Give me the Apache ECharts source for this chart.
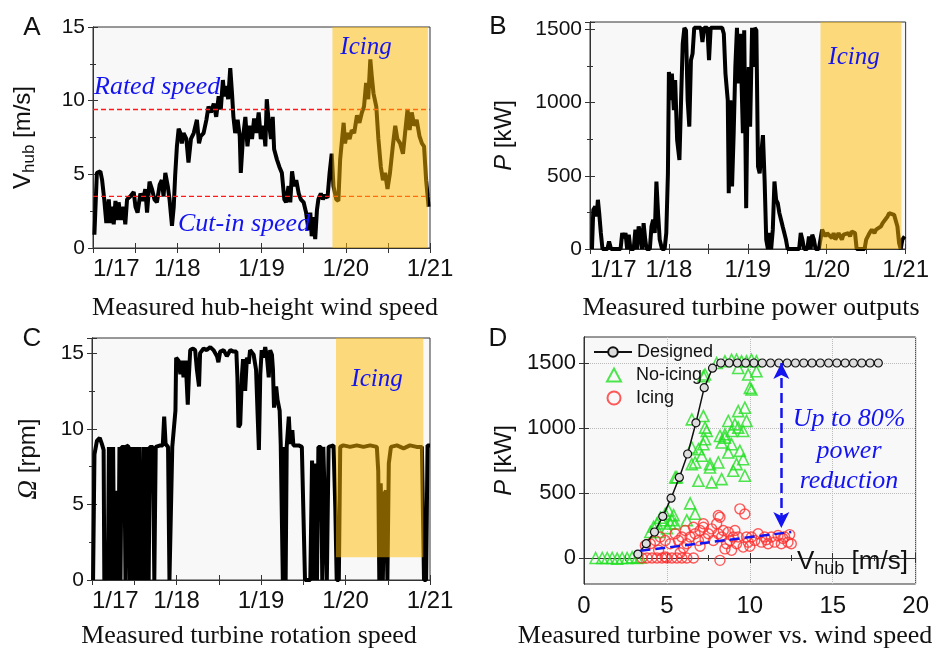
<!DOCTYPE html>
<html>
<head>
<meta charset="utf-8">
<script src="https://cdn.jsdelivr.net/npm/echarts@6/dist/echarts.min.js"></script>
<style>
  html, body { margin: 0; background: #fff; }
  #chart { width: 932px; height: 648px; }
</style>
</head>
<body>
<div id="chart"></div>
<script>
// hours since 1/17 00:00
const hoursA = [0.4,1.1,2.1,2.6,3.2,3.8,4.5,4.9,5.4,5.9, 6.4,6.8,7.3,8.0,8.7,9.2,9.7,10.6,11.6,12.1, 12.7,13.5,14.2,14.9,15.4,16.1,16.8,17.5,18.2,19.0, 19.6,20.1,20.6,21.3,21.8,22.5,23.0,23.4,23.9,24.4, 24.9,25.3,25.8,26.6,27.2,27.9,28.7,29.1,29.6,30.2, 30.7,31.5,32.3,32.9,33.6,34.4,35.1,35.8,36.4,37.0, 37.4,38.0,38.5,39.1,39.6,40.0,40.5,41.2,41.8,42.1, 42.7,43.4,44.0,44.6,45.3,45.9,46.5,47.2,47.8,48.6, 49.1,49.5,50.0,50.7,51.2,51.6,52.4,53.1,53.8,54.5, 55.0,55.7,56.2,56.7,57.3,57.9,58.6,59.2,60.0,60.7, 61.4,61.9,62.3,62.8,63.3,63.8,64.2,64.9,65.5,66.1, 66.8,67.4,68.0,68.5,69.3,69.9,70.4,71.4,71.8,72.3, 73.1,73.7,74.4,75.2,75.9,76.6,77.2,77.8,78.4,79.0, 79.4,79.9,80.7,81.3,82.0,82.6,83.2,83.9,84.6,85.4, 86.1,86.7,87.5,88.3,88.9,89.6,90.2,90.8,91.5,92.2, 93.0,93.7,94.3,94.9,95.6];
const windA = [0.9,5.1,5.2,4.6,3.3,1.7,3.3,1.7,2.8,1.6, 3.2,1.9,3.1,1.9,2.8,1.6,3.3,3.5,3.8,2.8, 2.4,3.7,3.2,4.0,2.4,4.5,4.0,3.3,3.1,4.3, 4.6,3.5,5.1,4.2,3.3,1.5,2.8,4.9,6.9,8.1, 7.8,7.1,7.8,7.4,5.8,7.4,7.8,7.9,8.7,7.1, 7.6,7.8,8.7,9.6,9.2,9.8,8.9,10.3,9.4,11.4, 10.3,11.0,10.1,12.2,10.5,8.9,7.8,8.7,7.6,5.1, 7.4,8.9,6.9,8.3,7.4,8.8,7.8,9.2,7.4,8.3, 6.9,10.1,8.7,7.4,8.9,6.7,6.0,5.5,5.1,3.3, 3.1,4.2,3.1,5.2,4.2,4.6,3.7,3.3,3.1,2.4, 1.2,2.4,0.8,2.1,0.6,2.6,3.3,3.7,3.3,3.6, 3.4,5.1,6.4,4.2,3.3,3.2,6.0,8.5,7.1,7.8, 7.4,8.0,7.8,9.0,8.5,9.2,9.6,11.2,10.1,12.8, 11.7,10.5,9.6,7.4,5.5,4.6,5.1,4.0,5.1,6.9, 8.3,7.4,7.1,6.4,7.8,9.4,8.0,9.2,8.3,8.7, 7.6,7.1,6.9,4.6,2.8];
const ratedSpeed = 9.4;
const cutInSpeed = 3.5;
const spanHours = [0, 96];
const icingA = [68.2, 95.4];

const hoursB = [0.6,1.0,1.6,2.0,2.4,2.8,3.3,3.8,5.3,5.8, 6.4,9.3,9.8,10.3,10.8,11.3,11.8,12.3,13.3,13.8, 14.3,14.8,15.3,15.8,16.3,16.8,17.2,18.2,18.7,19.2, 19.7,20.2,20.7,21.2,21.9,22.7,23.2,23.7,24.0,24.5, 24.9,25.5,25.9,26.5,27.2,27.7,28.2,28.7,29.2,29.7, 30.2,30.7,31.2,31.7,33.7,34.2,34.7,35.7,36.2,36.7, 40.2,40.7,41.2,41.9,42.2,42.7,43.2,43.7,44.2,44.7, 45.2,45.7,46.5,46.9,47.5,47.9,48.3,48.7,49.3,49.7, 50.1,50.6,51.1,51.6,52.1,52.6,53.1,53.6,54.1,54.6, 55.1,55.6,56.1,56.6,57.1,57.6,58.1,58.6,59.1,59.6, 60.1,63.6,64.1,64.6,65.1,66.1,66.6,67.1,67.6,68.1, 68.6,69.6,70.6,71.1,71.6,72.1,72.6,73.6,74.1,74.6, 75.1,75.6,76.1,76.6,77.1,77.6,78.6,79.1,79.6,80.6, 81.1,83.5,84.0,84.5,85.0,85.7,86.5,87.0,87.5,88.5, 89.0,89.5,90.5,91.0,91.5,92.5,93.0,93.5,94.0,94.5, 95.0,95.7];
const powerB = [0,268,290,222,336,245,109,0,0,52, 0,0,109,75,109,0,98,0,0,132, 0,154,109,0,177,64,0,0,154,200, 109,461,245,64,0,0,109,517,1209,1016, 1198,948,1153,744,608,1016,1402,1510,1493,1016, 835,1289,1334,1510,1510,1414,1510,1510,1289,1510, 1510,1470,1198,1016,381,1016,427,790,1243,1510, 1130,1470,790,1493,279,1016,1243,835,1510,1243, 1510,1493,563,517,653,778,472,64,0,109, 0,132,461,336,313,245,200,154,109,64, 0,0,109,64,0,0,86,0,98,64, 0,0,132,109,86,109,98,75,109,64, 75,109,86,64,98,86,109,86,120,109, 0,0,64,86,109,132,109,132,120,154, 177,188,222,245,256,233,245,154,41,0, 64,86];
const icingB = [70.1, 94.7];

const hoursC = [0.3,0.7,1.4,2.2,2.8,3.3, 3.5,3.9,4.2,4.5,4.8,5.1,5.4,5.7,6.0,6.3, 6.6,6.9,7.2,7.5,7.8,8.1,8.4,9.2,9.5,9.8, 10.4,10.7,11.0,11.3,11.6,11.9,12.2,12.5,12.8,13.1, 13.4,13.7,14.0,14.3,14.6,14.9,15.2,15.5,15.8,16.1, 16.4,17.3,17.7,18.1,19.4,20.1, 20.5,20.9,21.6,22.0,22.4,22.8,23.2,23.7,23.9,24.6, 25.1,25.5,26.0,26.6,27.2,27.5,27.9,28.7,29.3,29.8, 30.4,30.7,31.7,32.6,33.6,34.5,35.5,35.9,36.4,37.4, 38.3,39.3,40.2,41.0,41.3,41.6,42.1,42.6,42.9,43.5, 44.0,44.5,44.9,45.9,46.6,47.0,47.4,47.8,48.2,48.7, 49.2,49.7,50.2,50.6,51.1,51.4,51.7,52.3,52.7,53.3, 53.6,54.2,54.6,55.0,55.3,55.9,56.3,56.9,57.2,58.7, 59.6,60.1,60.5,62.0,62.5,62.9,63.4,63.9,64.3,65.0, 65.4,65.7,66.2,66.7,67.2,68.6,69.1,69.5,70.1,70.5, 71.4,73.3,75.2,77.1,79.0,80.9,81.3,81.6,82.0,82.6, 83.0,83.5,83.9,84.3,84.9,86.6,88.5,90.3,92.2,93.7, 94.3,94.9,95.3,96.0];
const rotorC = [0,8.3,9.2,9.4,9.0,8.6, 0,0,1.5,0,8.8,0,8.8,0,8.8,0, 3.3,0,5.9,0,8.8,0,8.8,8.8,0,8.9, 8.8,0,8.8,0,8.8,0,8.8,0,8.8,0, 8.8,0,3.7,0,8.8,0,8.8,0,8.8,0, 8.8,8.8,0,8.8,8.9,8.9, 10.8,9.0,8.8,0,0,8.8,8.8,11.2,14.7,14.5, 13.6,14.5,13.4,14.5,11.6,13.4,15.2,15.3,15.2,13.9, 12.8,15.0,15.3,15.2,15.4,15.2,14.8,14.4,15.1,15.2, 14.8,15.2,15.1,15.1,13.4,10.1,10.3,13.6,14.6,12.5, 14.7,14.3,15.2,14.9,13.9,11.2,8.6,13.6,15.2,14.7, 15.4,14.7,13.4,15.2,14.9,13.9,11.4,12.8,11.9,11.2, 9.0,0,8.8,0,8.8,10.8,9.0,9.9,8.9,8.9, 8.8,8.8,0,0,7.9,0,7.7,0,8.8,8.8, 0,8.8,8.8,0,8.8,8.9,4.8,0,0,8.8, 8.9,8.8,8.9,8.8,8.9,8.8,7.2,0,6.4,0, 5.7,5.9,0,7.7,8.8,8.9,8.7,8.9,8.8,8.8, 0,0,8.9,8.9];
const icingC = [69.3, 94.1];
const icingCFloor = 1.5;

// panel D: power curve
const designedV = [3.25,3.75,4.25,4.75,5.25,5.75,6.25,6.75,7.25,7.75,8.25,8.75,9.25,9.75,10.25,10.75,11.25,11.75,12.25,12.75,13.25,13.75,14.25,14.75,15.25,15.75,16.25,16.75,17.25,17.75];
const designedP = [30,110,200,320,460,620,800,1040,1310,1460,1500,1500,1500,1500,1500,1500,1500,1500,1500,1500,1500,1500,1500,1500,1500,1500,1500,1500,1500,1500];
const noIcingV = [0.7,1.1,1.4,1.7,2.0,2.3,2.6,2.9,3.2,3.4, 4.0,4.2,4.4,4.6,4.8,4.9,5.1,5.2,5.3,5.5, 5.0,4.5,5.4,5.5,5.6,6.2,6.4,6.7, 6.5,7.2,7.3,7.4,6.5,6.9,7.2,7.3,7.1,6.7, 6.5,7.6,8.1,6.9,7.7,8.3,7.6,8.5,8.7,8.9, 9.1,9.3,9.7,9.3,9.6,9.8,8.9,8.3,9.4,9.2, 9.6,9.0,9.7,8.7,8.2,8.5, 7.2,7.3,8.0,8.5,8.9,9.2,9.5,9.8,10.1,10.4, 9.3,9.9,10.4,10.0,10.1];
const noIcingP = [0,0,0,0,-5,0,0,5,0,5, 200,240,265,310,290,340,365,265,290,265, 230,200,330,620,620,290,420,340, 1066,1092,1003,977,850,837,875,913,786,735, 722,722,735,594,582,607,696,926,1054,977, 1028,1130,1156,1003,977,1054,875,888,824,722, 760,671,633,811,939,952, 1398,1411,1500,1513,1525,1525,1513,1513,1525,1513, 1462,1411,1436,1309,1296];
const icingV = [3.5,3.8,4.1,4.4,4.7,5.0,5.3,5.6,5.9,6.2,6.6, 3.7,4.0,4.3,4.6,4.9,5.2,5.5,5.7,5.9,6.1, 6.2,6.4,6.6,6.7,6.9,7.0,7.2,7.3,7.5,7.7, 7.8,8.0,8.1,8.2,8.3,8.4,8.6,8.7,8.8,8.9, 9.0,9.1,9.2,9.3,9.4,9.6,9.7,9.8,9.9,10.1, 10.3,10.5,10.7,10.9,11.1,11.3,11.5,11.7,11.9,12.1, 12.3,12.5,8.2,4.9,8.1,7.2,6.0,7.0,8.5,10.0, 11.0,12.0,12.4,5.8,4.5];
const icingP = [0,0,0,0,0,0,0,0,0,0,0, 97,110,135,161,135,110,186,135,161,212, 110,161,237,186,135,212,237,148,186,224, 135,263,186,314,161,212,110,199,135,59, 161,212,110,161,378,84,339,161,122,161, 135,186,122,161,110,161,122,173,110,161, 122,110,-18,8,327,263,80,90,70,90, 140,150,180,40,60];
const trendV = [3.4, 12.5];
const trendP = [55, 200];
const reductionV = 11.9;
const reductionP = [1500, 230];
const powerTicks = [0, 500, 1000, 1500];

const SANS = 'Liberation Sans, Arial, sans-serif';
const SERIF = 'Liberation Serif, Times New Roman, serif';
const BLUE = '#1414f0';
const ICE = 'rgba(255,188,0,0.5)';
const AXIS = '#333';

const pairs = (xs, ys) => xs.map((x, i) => [x, ys[i]]);

const chart = echarts.init(document.getElementById('chart'));

const gridStyle = { show: true, backgroundColor: '#f8f8f8', borderColor: AXIS, borderWidth: 1 };
const tickStyle = { inside: true, length: 5, lineStyle: { color: AXIS } };
const minorStyle = { show: true, splitNumber: 2, length: 3, lineStyle: { color: AXIS } };

function timeAxis(gridIndex) {
  return {
    type: 'value', gridIndex, min: 0, max: 96, interval: 12,
    axisLine: { show: true, lineStyle: { color: AXIS } },
    axisTick: tickStyle,
    splitLine: { show: false },
    axisLabel: {
      fontFamily: SANS, fontSize: 24, color: '#111', margin: 9, alignMinLabel: 'left',
      formatter: v => (v % 24 === 0 ? '1/' + (17 + v / 24) : '')
    }
  };
}

function valAxis(gridIndex, min, max, interval, step, extra) {
  return Object.assign({
    type: 'value', gridIndex, min, max, interval,
    axisLine: { show: true, lineStyle: { color: AXIS } },
    axisTick: tickStyle,
    minorTick: minorStyle,
    splitLine: { show: false },
    nameLocation: 'middle',
    axisLabel: {
      fontFamily: SANS, fontSize: 21, color: '#111', margin: 8,
      formatter: v => (v % step === 0 ? String(v) : '')
    }
  }, extra);
}

// same scale on the opposite edge, ticks only
function mirror(axis, position) {
  return Object.assign({}, axis, { position, name: '', axisLabel: { show: false }, splitLine: { show: false } });
}

function icingBox(xAxisIndex, win, y0, y1) {
  return {
    type: 'custom', xAxisIndex, yAxisIndex: xAxisIndex, z: 10, silent: true,
    data: [[win[0], win[1], y0, y1]],
    renderItem: (params, api) => {
      const p0 = api.coord([api.value(0), api.value(3)]);
      const p1 = api.coord([api.value(1), api.value(2)]);
      return { type: 'rect', shape: { x: p0[0], y: p0[1], width: p1[0] - p0[0], height: p1[1] - p0[1] }, style: { fill: ICE } };
    }
  };
}

const blackLine = { color: '#000', width: 4 };

function threshold(value) {
  return {
    type: 'line', xAxisIndex: 0, yAxisIndex: 0, showSymbol: false, silent: true, z: 3,
    lineStyle: { color: '#ff1a1a', type: [5, 3], width: 1.3 },
    data: pairs(spanHours, [value, value])
  };
}

function txt(x, y, text, size, family, color, opts) {
  return {
    type: 'text', x, y, z: 100, silent: true,
    style: Object.assign({ text, fontSize: size, fontFamily: family, fill: color, textAlign: 'center', textVerticalAlign: 'middle' }, opts || {})
  };
}

const xAxes = [
  timeAxis(0), timeAxis(1), timeAxis(2),
  {
    type: 'value', gridIndex: 3, min: 0, max: 20, interval: 5,
    axisLine: { show: true, lineStyle: { color: AXIS } },
    axisTick: tickStyle,
    minorTick: minorStyle,
    splitLine: { show: true, lineStyle: { color: '#bbb', type: 'dotted' } },
    axisLabel: { fontFamily: SANS, fontSize: 24, color: '#111', margin: 10 }
  }
];
const yAxes = [
  valAxis(0, 0, 15, 5, 5, {
    name: '{v|V}{s|hub}{v| [m/s]}', nameGap: 55,
    nameTextStyle: { rich: { v: { fontFamily: SANS, fontSize: 24, color: '#111' }, s: { fontFamily: SANS, fontSize: 17, color: '#111', padding: [12, 0, 0, 0] } } }
  }),
  valAxis(1, 0, 1550, 500, 500, {
    name: '{i|P} [kW]', nameGap: 74,
    nameTextStyle: { fontFamily: SANS, fontSize: 24, color: '#111', rich: { i: { fontFamily: SANS, fontSize: 24, fontStyle: 'italic', color: '#111' } } }
  }),
  valAxis(2, 0, 16, 5, 5, {
    name: '{i|Ω} [rpm]', nameGap: 50,
    nameTextStyle: { fontFamily: SANS, fontSize: 24, color: '#111', rich: { i: { fontFamily: SERIF, fontSize: 27, fontStyle: 'italic', color: '#111' } } }
  }),
  {
    type: 'value', gridIndex: 3, min: -200, max: 1700,
    axisLine: { show: true, lineStyle: { color: AXIS } },
    axisTick: Object.assign({ customValues: powerTicks }, tickStyle),
    splitLine: { show: true, lineStyle: { color: '#bbb', type: 'dotted' } },
    axisLabel: { fontFamily: SANS, fontSize: 22, color: '#111', margin: 8, customValues: powerTicks, formatter: v => String(v) },
    nameLocation: 'middle', name: '{i|P} [kW]', nameGap: 68,
    nameTextStyle: { fontFamily: SANS, fontSize: 24, color: '#111', rich: { i: { fontFamily: SANS, fontSize: 24, fontStyle: 'italic', color: '#111' } } }
  }
];

const option = {
  animation: false,
  grid: [
    Object.assign({ left: 93, top: 27, width: 337, height: 221 }, gridStyle),
    Object.assign({ left: 590, top: 22, width: 321, height: 227 }, gridStyle),
    Object.assign({ left: 92, top: 338, width: 338, height: 242 }, gridStyle),
    Object.assign({ left: 584, top: 337, width: 333, height: 247 }, gridStyle)
  ],
  xAxis: xAxes.concat(xAxes.map(a => mirror(a, 'top'))),
  yAxis: yAxes.concat(yAxes.map(a => mirror(a, 'right'))),
  legend: [
    {
      left: 588, top: 338, itemWidth: 38, itemHeight: 12,
      textStyle: { fontFamily: SANS, fontSize: 18, color: '#111' },
      data: ['Designed']
    },
    {
      left: 601, top: 361, orient: 'vertical', itemGap: 5, itemWidth: 14, itemHeight: 13,
      textStyle: { fontFamily: SANS, fontSize: 18, color: '#111', padding: [0, 0, 0, 10] },
      data: ['No-icing', 'Icing']
    }
  ],
  series: [
    { type: 'line', xAxisIndex: 0, yAxisIndex: 0, showSymbol: false, lineStyle: blackLine, z: 2, data: pairs(hoursA, windA) },
    threshold(ratedSpeed),
    threshold(cutInSpeed),
    icingBox(0, icingA, 0, 15),
    { type: 'line', xAxisIndex: 1, yAxisIndex: 1, showSymbol: false, lineStyle: blackLine, z: 2, data: pairs(hoursB, powerB) },
    icingBox(1, icingB, 0, 1550),
    { type: 'line', xAxisIndex: 2, yAxisIndex: 2, showSymbol: false, lineStyle: blackLine, z: 2, data: pairs(hoursC, rotorC) },
    icingBox(2, icingC, icingCFloor, 16),
    {
      name: 'No-icing', type: 'scatter', xAxisIndex: 3, yAxisIndex: 3, symbol: 'triangle', symbolSize: 11, z: 3,
      itemStyle: { color: 'rgba(0,0,0,0)', borderColor: '#22e022', borderWidth: 1.6 },
      data: pairs(noIcingV, noIcingP)
    },
    {
      name: 'Icing', type: 'scatter', xAxisIndex: 3, yAxisIndex: 3, symbol: 'circle', symbolSize: 10, z: 3,
      itemStyle: { color: 'rgba(0,0,0,0)', borderColor: '#ff3030', borderWidth: 1.4 },
      data: pairs(icingV, icingP)
    },
    {
      name: 'Designed', type: 'line', xAxisIndex: 3, yAxisIndex: 3, symbol: 'circle', symbolSize: 8, z: 4,
      lineStyle: { color: '#111', width: 1.5 },
      itemStyle: { color: '#ddd', borderColor: '#111', borderWidth: 1.2 },
      data: pairs(designedV, designedP)
    },
    {
      type: 'line', xAxisIndex: 3, yAxisIndex: 3, showSymbol: false, z: 5, silent: true,
      lineStyle: { color: BLUE, width: 2.5, type: 'dashed' },
      data: pairs(trendV, trendP),
      markLine: {
        silent: true, symbol: ['arrow', 'arrow'], symbolSize: [12, 16], label: { show: false },
        lineStyle: { color: BLUE, width: 2.5, type: 'dashed' },
        data: [[{ coord: [reductionV, reductionP[0]] }, { coord: [reductionV, reductionP[1]] }]]
      }
    }
  ],
  graphic: [
    txt(32, 28, 'A', 26, SANS, '#111'),
    txt(498, 27, 'B', 26, SANS, '#111'),
    txt(32, 339, 'C', 26, SANS, '#111'),
    txt(498, 339, 'D', 26, SANS, '#111'),
    txt(265, 308, 'Measured hub-height wind speed', 26, SERIF, '#111'),
    txt(751, 308, 'Measured turbine power outputs', 26, SERIF, '#111'),
    txt(249, 636, 'Measured turbine rotation speed', 26, SERIF, '#111'),
    txt(725, 636, 'Measured turbine power vs. wind speed', 26, SERIF, '#111'),
    txt(366, 47, 'Icing', 25, SERIF, BLUE, { fontStyle: 'italic' }),
    txt(854, 57, 'Icing', 25, SERIF, BLUE, { fontStyle: 'italic' }),
    txt(377, 379, 'Icing', 25, SERIF, BLUE, { fontStyle: 'italic' }),
    txt(94, 87, 'Rated speed', 26, SERIF, BLUE, { fontStyle: 'italic', textAlign: 'left' }),
    txt(178, 224, 'Cut-in speed', 26, SERIF, BLUE, { fontStyle: 'italic', textAlign: 'left' }),
    txt(849, 419, 'Up to 80%', 26, SERIF, BLUE, { fontStyle: 'italic' }),
    txt(849, 451, 'power', 26, SERIF, BLUE, { fontStyle: 'italic' }),
    txt(849, 481, 'reduction', 26, SERIF, BLUE, { fontStyle: 'italic' }),
    {
      type: 'text', x: 797, y: 562, z: 100, silent: true,
      style: {
        text: '{v|V}{s|hub}{v| [m/s]}', textVerticalAlign: 'middle',
        rich: { v: { fontFamily: SANS, fontSize: 26, fill: '#111' }, s: { fontFamily: SANS, fontSize: 18, fill: '#111', padding: [14, 0, 0, 0] } }
      }
    }
  ]
};

chart.setOption(option);
</script>
</body>
</html>
